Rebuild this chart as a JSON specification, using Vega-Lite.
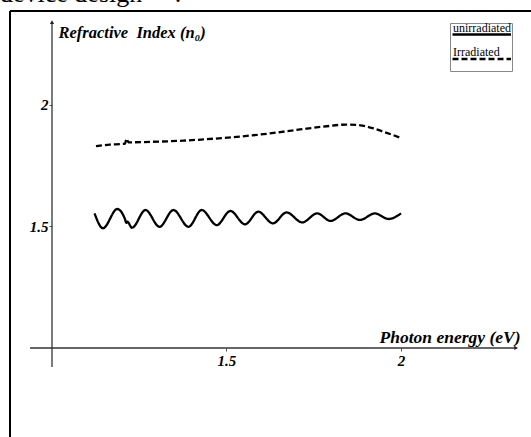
{
  "$schema": "https://vega.github.io/schema/vega-lite/v6.json",
  "width": 521,
  "height": 426,
  "autosize": {"type": "none"},
  "padding": {"left": 10, "top": 11, "right": 0, "bottom": 0},
  "background": "white",
  "config": {"view": {"stroke": null}, "font": "Liberation Serif"},
  "title": {
    "text": "device design\u00a0\u00a0\u00a0\u00a0\u00a0.",
    "anchor": "start",
    "frame": "group",
    "font": "Liberation Serif",
    "fontSize": 26,
    "fontWeight": "normal",
    "color": "black",
    "baseline": "alphabetic",
    "offset": 5,
    "dx": -10,
    "dy": 23
  },
  "data": {"values": [{}]},
  "datasets": {
    "curves": [
      {"energy": 1.122, "n": 1.553, "series": "unirradiated"},
      {"energy": 1.146, "n": 1.492, "series": "unirradiated"},
      {"energy": 1.187, "n": 1.571, "series": "unirradiated"},
      {"energy": 1.209, "n": 1.530, "series": "unirradiated"},
      {"energy": 1.213, "n": 1.514, "series": "unirradiated"},
      {"energy": 1.216, "n": 1.519, "series": "unirradiated"},
      {"energy": 1.229, "n": 1.494, "series": "unirradiated"},
      {"energy": 1.268, "n": 1.567, "series": "unirradiated"},
      {"energy": 1.308, "n": 1.498, "series": "unirradiated"},
      {"energy": 1.348, "n": 1.567, "series": "unirradiated"},
      {"energy": 1.391, "n": 1.498, "series": "unirradiated"},
      {"energy": 1.429, "n": 1.567, "series": "unirradiated"},
      {"energy": 1.472, "n": 1.505, "series": "unirradiated"},
      {"energy": 1.511, "n": 1.563, "series": "unirradiated"},
      {"energy": 1.553, "n": 1.508, "series": "unirradiated"},
      {"energy": 1.591, "n": 1.560, "series": "unirradiated"},
      {"energy": 1.633, "n": 1.512, "series": "unirradiated"},
      {"energy": 1.672, "n": 1.557, "series": "unirradiated"},
      {"energy": 1.717, "n": 1.516, "series": "unirradiated"},
      {"energy": 1.760, "n": 1.553, "series": "unirradiated"},
      {"energy": 1.798, "n": 1.522, "series": "unirradiated"},
      {"energy": 1.841, "n": 1.553, "series": "unirradiated"},
      {"energy": 1.882, "n": 1.526, "series": "unirradiated"},
      {"energy": 1.925, "n": 1.553, "series": "unirradiated"},
      {"energy": 1.965, "n": 1.530, "series": "unirradiated"},
      {"energy": 2.000, "n": 1.553, "series": "unirradiated"},
      {"energy": 1.126, "n": 1.829, "series": "Irradiated"},
      {"energy": 1.166, "n": 1.836, "series": "Irradiated"},
      {"energy": 1.200, "n": 1.838, "series": "Irradiated"},
      {"energy": 1.209, "n": 1.840, "series": "Irradiated"},
      {"energy": 1.214, "n": 1.860, "series": "Irradiated"},
      {"energy": 1.219, "n": 1.845, "series": "Irradiated"},
      {"energy": 1.281, "n": 1.847, "series": "Irradiated"},
      {"energy": 1.376, "n": 1.852, "series": "Irradiated"},
      {"energy": 1.491, "n": 1.863, "series": "Irradiated"},
      {"energy": 1.615, "n": 1.880, "series": "Irradiated"},
      {"energy": 1.711, "n": 1.898, "series": "Irradiated"},
      {"energy": 1.787, "n": 1.911, "series": "Irradiated"},
      {"energy": 1.844, "n": 1.918, "series": "Irradiated"},
      {"energy": 1.883, "n": 1.915, "series": "Irradiated"},
      {"energy": 1.921, "n": 1.902, "series": "Irradiated"},
      {"energy": 1.959, "n": 1.884, "series": "Irradiated"},
      {"energy": 2.000, "n": 1.863, "series": "Irradiated"}
    ]
  },
  "layer": [
    {
      "mark": {"type": "rule", "color": "black", "strokeWidth": 2},
      "encoding": {"x": {"datum": 0.87966, "type": "quantitative"}}
    },
    {
      "mark": {"type": "rule", "color": "black", "strokeWidth": 2},
      "encoding": {"y": {"datum": 2.3846, "type": "quantitative"}}
    },
    {
      "mark": {"type": "rule", "color": "#333333", "strokeWidth": 1.3},
      "encoding": {
        "x": {"datum": 0.937, "type": "quantitative"},
        "x2": {"datum": 2.33},
        "y": {"datum": 1, "type": "quantitative"}
      }
    },
    {
      "mark": {"type": "rule", "color": "#333333", "strokeWidth": 1.3},
      "encoding": {
        "x": {"datum": 1, "type": "quantitative"},
        "y": {"datum": 0.922, "type": "quantitative"},
        "y2": {"datum": 2.339}
      }
    },
    {
      "mark": {"type": "point", "shape": "triangle-right", "filled": true, "color": "#222222", "size": 18, "opacity": 1},
      "encoding": {
        "x": {"datum": 2.33, "type": "quantitative"},
        "y": {"datum": 1, "type": "quantitative"}
      }
    },
    {
      "mark": {"type": "point", "shape": "triangle-up", "filled": true, "color": "#222222", "size": 18, "opacity": 1},
      "encoding": {
        "x": {"datum": 1, "type": "quantitative"},
        "y": {"datum": 2.339, "type": "quantitative"}
      }
    },
    {
      "data": {"name": "curves"},
      "mark": {"type": "line", "color": "black", "strokeWidth": 2.3, "interpolate": "monotone"},
      "encoding": {
        "x": {
          "field": "energy",
          "type": "quantitative",
          "scale": {"domain": [0.87966, 2.37249], "nice": false, "zero": false},
          "axis": {
            "orient": "bottom",
            "offset": -89,
            "domain": false,
            "grid": false,
            "values": [1.5, 2],
            "format": "~g",
            "tickSize": 3,
            "tickColor": "#555555",
            "labelPadding": 2,
            "labelFont": "Liberation Serif",
            "labelFontSize": 15,
            "labelFontWeight": "bold",
            "labelFontStyle": "italic",
            "labelColor": "black",
            "title": "Photon energy (eV)",
            "titleFont": "Liberation Serif",
            "titleFontSize": 17.5,
            "titleFontWeight": "bold",
            "titleFontStyle": "italic",
            "titleColor": "black",
            "titleAngle": 0,
            "titleAlign": "right",
            "titleAnchor": null,
            "titleBaseline": "alphabetic",
            "titleX": 510,
            "titleY": -6
          }
        },
        "y": {
          "field": "n",
          "type": "quantitative",
          "scale": {"domain": [0.6343, 2.3846], "nice": false, "zero": false},
          "axis": {
            "orient": "left",
            "offset": -42,
            "domain": false,
            "grid": false,
            "values": [1.5, 2],
            "format": "~g",
            "tickSize": 3,
            "tickColor": "#555555",
            "labelPadding": 1,
            "labelFont": "Liberation Serif",
            "labelFontSize": 15,
            "labelFontWeight": "bold",
            "labelFontStyle": "italic",
            "labelColor": "black",
            "title": "Refractive\u00a0 Index (n\u2080)",
            "titleFont": "Liberation Serif",
            "titleFontSize": 16.5,
            "titleFontWeight": "bold",
            "titleFontStyle": "italic",
            "titleColor": "black",
            "titleAngle": 0,
            "titleAlign": "left",
            "titleAnchor": null,
            "titleBaseline": "alphabetic",
            "titleX": 6,
            "titleY": 26
          }
        },
        "strokeDash": {
          "field": "series",
          "type": "nominal",
          "scale": {"domain": ["unirradiated", "Irradiated"], "range": [[1, 0], [6, 3]]},
          "legend": {
            "title": null,
            "orient": "none",
            "legendX": 440,
            "legendY": 12,
            "symbolType": "stroke",
            "symbolSize": 3600,
            "symbolStrokeWidth": 2.5,
            "symbolStrokeColor": "black",
            "clipHeight": 21,
            "rowPadding": 0.5,
            "labelOffset": -61,
            "labelBaseline": "bottom",
            "labelFont": "Liberation Serif",
            "labelFontSize": 12,
            "labelColor": "black",
            "strokeColor": "#888888",
            "fillColor": "white",
            "padding": 1
          }
        }
      }
    }
  ]
}
